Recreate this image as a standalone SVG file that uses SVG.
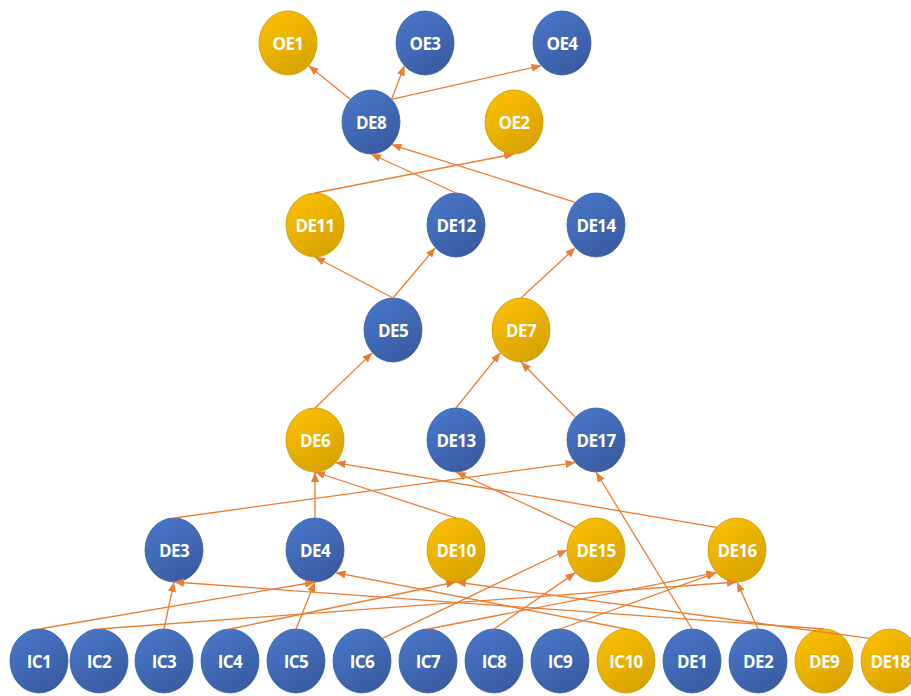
<svg xmlns="http://www.w3.org/2000/svg" width="911" height="696" viewBox="0 0 911 696">
<defs>
<linearGradient id="gb" x1="0" y1="0" x2="0.6" y2="1">
<stop offset="0" stop-color="#4A79CC"/>
<stop offset="1" stop-color="#3A5CA3"/>
</linearGradient>
<linearGradient id="gy" x1="0" y1="0" x2="0.6" y2="1">
<stop offset="0" stop-color="#FFC200"/>
<stop offset="1" stop-color="#D9A300"/>
</linearGradient>
<marker id="ah" markerUnits="userSpaceOnUse" markerWidth="10" markerHeight="8" refX="10" refY="4" orient="auto">
<path d="M0,0 L10,4 L0,8 z" fill="#ED7D31"/>
</marker>
<style>
.b{fill:url(#gb);stroke:#3560A8;stroke-width:0.8}
.y{fill:url(#gy);stroke:#C99A00;stroke-width:0.8}
.t{font-family:"Open Sans","Liberation Sans",Arial,sans-serif;font-weight:bold;font-size:17px;letter-spacing:-0.6px;fill:#FFFFFF;text-anchor:middle;dominant-baseline:central}
.e{stroke:#ED7D31;stroke-width:1.3;fill:none;marker-end:url(#ah)}
</style>
</defs>
<rect width="911" height="696" fill="#FFFFFF"/>
<g id="nodes">
<g id="OE1"><ellipse class="y" cx="288" cy="43" rx="29" ry="32"/><text class="t" x="288" y="43">OE1</text></g>
<g id="OE3"><ellipse class="b" cx="425" cy="43" rx="29" ry="32"/><text class="t" x="425" y="43">OE3</text></g>
<g id="OE4"><ellipse class="b" cx="562" cy="43" rx="29" ry="32"/><text class="t" x="562" y="43">OE4</text></g>
<g id="DE8"><ellipse class="b" cx="371" cy="122" rx="29" ry="32"/><text class="t" x="371" y="122">DE8</text></g>
<g id="OE2"><ellipse class="y" cx="514" cy="122" rx="29" ry="32"/><text class="t" x="514" y="122">OE2</text></g>
<g id="DE11"><ellipse class="y" cx="315" cy="225" rx="29" ry="32"/><text class="t" x="315" y="225">DE11</text></g>
<g id="DE12"><ellipse class="b" cx="456" cy="225" rx="29" ry="32"/><text class="t" x="456" y="225">DE12</text></g>
<g id="DE14"><ellipse class="b" cx="596" cy="225" rx="29" ry="32"/><text class="t" x="596" y="225">DE14</text></g>
<g id="DE5"><ellipse class="b" cx="393" cy="330" rx="29" ry="32"/><text class="t" x="393" y="330">DE5</text></g>
<g id="DE7"><ellipse class="y" cx="521" cy="330" rx="29" ry="32"/><text class="t" x="521" y="330">DE7</text></g>
<g id="DE6"><ellipse class="y" cx="315" cy="440" rx="29" ry="32"/><text class="t" x="315" y="440">DE6</text></g>
<g id="DE13"><ellipse class="b" cx="456" cy="440" rx="29" ry="32"/><text class="t" x="456" y="440">DE13</text></g>
<g id="DE17"><ellipse class="b" cx="596" cy="440" rx="29" ry="32"/><text class="t" x="596" y="440">DE17</text></g>
<g id="DE3"><ellipse class="b" cx="174" cy="550" rx="29" ry="32"/><text class="t" x="174" y="550">DE3</text></g>
<g id="DE4"><ellipse class="b" cx="315" cy="550" rx="29" ry="32"/><text class="t" x="315" y="550">DE4</text></g>
<g id="DE10"><ellipse class="y" cx="456" cy="550" rx="29" ry="32"/><text class="t" x="456" y="550">DE10</text></g>
<g id="DE15"><ellipse class="y" cx="596" cy="550" rx="29" ry="32"/><text class="t" x="596" y="550">DE15</text></g>
<g id="DE16"><ellipse class="y" cx="737" cy="550" rx="29" ry="32"/><text class="t" x="737" y="550">DE16</text></g>
<g id="IC1"><ellipse class="b" cx="39" cy="661" rx="29" ry="32"/><text class="t" x="39" y="661">IC1</text></g>
<g id="IC2"><ellipse class="b" cx="99" cy="661" rx="29" ry="32"/><text class="t" x="99" y="661">IC2</text></g>
<g id="IC3"><ellipse class="b" cx="164" cy="661" rx="29" ry="32"/><text class="t" x="164" y="661">IC3</text></g>
<g id="IC4"><ellipse class="b" cx="230" cy="661" rx="29" ry="32"/><text class="t" x="230" y="661">IC4</text></g>
<g id="IC5"><ellipse class="b" cx="296" cy="661" rx="29" ry="32"/><text class="t" x="296" y="661">IC5</text></g>
<g id="IC6"><ellipse class="b" cx="362" cy="661" rx="29" ry="32"/><text class="t" x="362" y="661">IC6</text></g>
<g id="IC7"><ellipse class="b" cx="428" cy="661" rx="29" ry="32"/><text class="t" x="428" y="661">IC7</text></g>
<g id="IC8"><ellipse class="b" cx="494" cy="661" rx="29" ry="32"/><text class="t" x="494" y="661">IC8</text></g>
<g id="IC9"><ellipse class="b" cx="560" cy="661" rx="29" ry="32"/><text class="t" x="560" y="661">IC9</text></g>
<g id="IC10"><ellipse class="y" cx="626" cy="661" rx="29" ry="32"/><text class="t" x="626" y="661">IC10</text></g>
<g id="DE1"><ellipse class="b" cx="692" cy="661" rx="29" ry="32"/><text class="t" x="692" y="661">DE1</text></g>
<g id="DE2"><ellipse class="b" cx="758" cy="661" rx="29" ry="32"/><text class="t" x="758" y="661">DE2</text></g>
<g id="DE9"><ellipse class="y" cx="824" cy="661" rx="29" ry="32"/><text class="t" x="824" y="661">DE9</text></g>
<g id="DE18"><ellipse class="y" cx="890" cy="661" rx="29" ry="32"/><text class="t" x="890" y="661">DE18</text></g>
</g>
<g id="connectors">
<line class="e" x1="350.5" y1="99.4" x2="308.5" y2="65.6"/>
<line class="e" x1="391.5" y1="99.4" x2="404.5" y2="65.6"/>
<line class="e" x1="391.5" y1="99.4" x2="541.5" y2="65.6"/>
<line class="e" x1="315" y1="193" x2="514" y2="154"/>
<line class="e" x1="456" y1="193" x2="371" y2="154"/>
<line class="e" x1="575.5" y1="202.4" x2="391.5" y2="144.6"/>
<line class="e" x1="393" y1="298" x2="315" y2="257"/>
<line class="e" x1="393" y1="298" x2="435.5" y2="247.6"/>
<line class="e" x1="521" y1="298" x2="575.5" y2="247.6"/>
<line class="e" x1="315" y1="408" x2="372.5" y2="352.6"/>
<line class="e" x1="456" y1="408" x2="500.5" y2="352.6"/>
<line class="e" x1="575.5" y1="417.4" x2="521" y2="362"/>
<line class="e" x1="315" y1="518" x2="315" y2="472"/>
<line class="e" x1="456" y1="518" x2="315" y2="472"/>
<line class="e" x1="716.5" y1="527.4" x2="335.5" y2="462.6"/>
<line class="e" x1="174" y1="518" x2="575.5" y2="462.6"/>
<line class="e" x1="575.5" y1="527.4" x2="456" y2="472"/>
<line class="e" x1="692" y1="629" x2="596" y2="472"/>
<line class="e" x1="39" y1="629" x2="315" y2="582"/>
<line class="e" x1="99" y1="629" x2="737" y2="582"/>
<line class="e" x1="164" y1="629" x2="174" y2="582"/>
<line class="e" x1="230" y1="629" x2="456" y2="582"/>
<line class="e" x1="296" y1="629" x2="315" y2="582"/>
<line class="e" x1="382.5" y1="638.4" x2="567" y2="550"/>
<line class="e" x1="428" y1="629" x2="716.5" y2="572.6"/>
<line class="e" x1="494" y1="629" x2="575.5" y2="572.6"/>
<line class="e" x1="560" y1="629" x2="716.5" y2="572.6"/>
<line class="e" x1="626" y1="629" x2="335.5" y2="572.6"/>
<line class="e" x1="758" y1="629" x2="737" y2="582"/>
<line class="e" x1="824" y1="629" x2="174" y2="582"/>
<line class="e" x1="869.5" y1="638.4" x2="456" y2="582"/>
</g>
</svg>
